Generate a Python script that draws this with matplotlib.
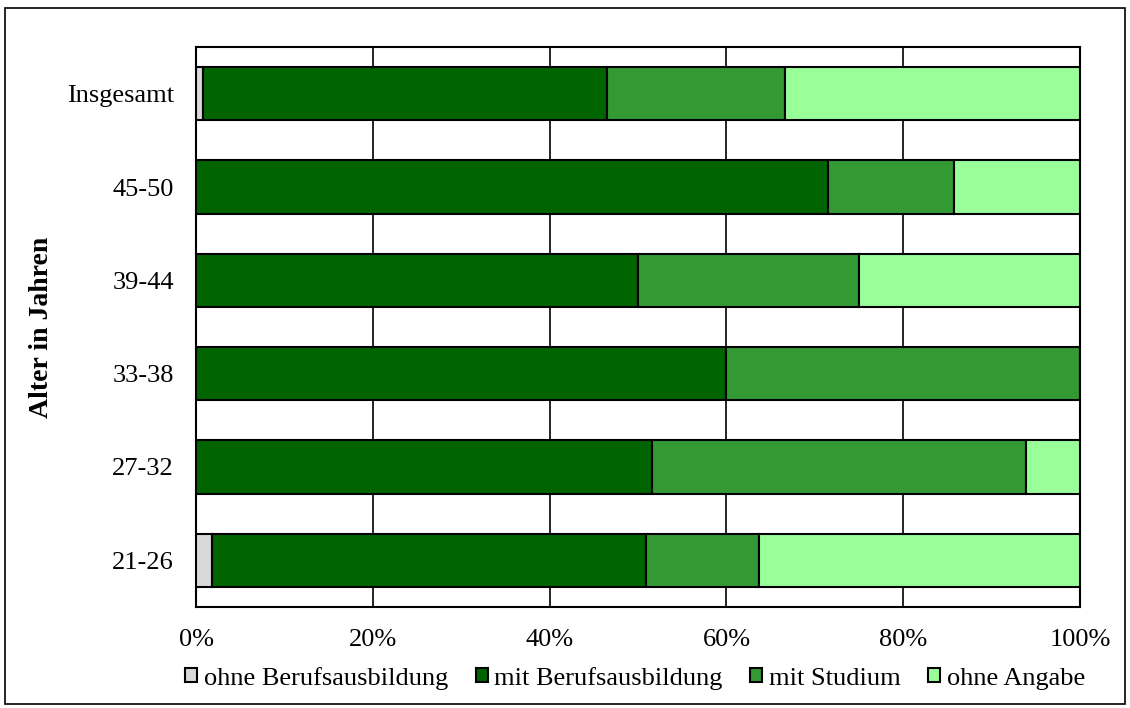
import matplotlib.pyplot as plt
import numpy as np
from matplotlib.patches import Rectangle

plt.rcParams['font.family'] = ['Liberation Serif', 'DejaVu Serif']

groups = ["21-26", "27-32", "33-38", "39-44", "45-50", "Insgesamt"]
series = ["ohne Berufsausbildung", "mit Berufsausbildung", "mit Studium", "ohne Angabe"]
ohne_ausbildung = [1.8, 0, 0, 0, 0, 0.8]
mit_ausbildung = [49.1, 51.6, 60.0, 50.0, 71.5, 45.7]
mit_studium = [12.8, 42.3, 40.0, 25.0, 14.2, 20.1]
ohne_angabe = [36.3, 6.1, 0, 25.0, 14.3, 33.4]
colors = ["#d9d9d9", "#006400", "#339933", "#99ff99"]

fig = plt.figure(figsize=(11.3, 7.08), dpi=100)
ax = fig.add_axes([0.1735, 0.1427, 0.7823, 0.7909])

y = np.arange(len(groups))
left = np.zeros(len(groups))
for vals, name, col in zip([ohne_ausbildung, mit_ausbildung, mit_studium, ohne_angabe],
                           series, colors):
    ax.barh(y, vals, left=left, height=0.57, color=col, edgecolor="black",
            linewidth=1.5, label=name, zorder=3)
    left += np.array(vals)

ax.set_xlim(0, 100)
ax.set_ylim(-0.5, len(groups) - 0.5)
ax.set_xticks(np.arange(0, 101, 20))
ax.set_xticklabels([f"{v}%" for v in range(0, 101, 20)])
ax.set_yticks(y)
ax.set_yticklabels(groups)
ax.tick_params(axis="both", length=0, labelsize=19)
ax.tick_params(axis="y", pad=16)
ax.tick_params(axis="x", pad=16)
ax.xaxis.grid(True, color="black", linewidth=1.2, zorder=0)
for s in ax.spines.values():
    s.set_linewidth(1.5)
ax.set_ylabel("Alter in Jahren", fontsize=20, fontweight="bold", labelpad=9)

fig.legend(loc="center", bbox_to_anchor=(0.562, 0.042), ncol=4, frameon=False,
           fontsize=19, handlelength=0.45, handleheight=0.45, handletextpad=0.25,
           columnspacing=1.05)

fig.patches.append(Rectangle((0.0045, 0.006), 0.991, 0.983, transform=fig.transFigure,
                             fill=False, edgecolor="black", linewidth=1.2))

plt.savefig("out.png", dpi=100)
